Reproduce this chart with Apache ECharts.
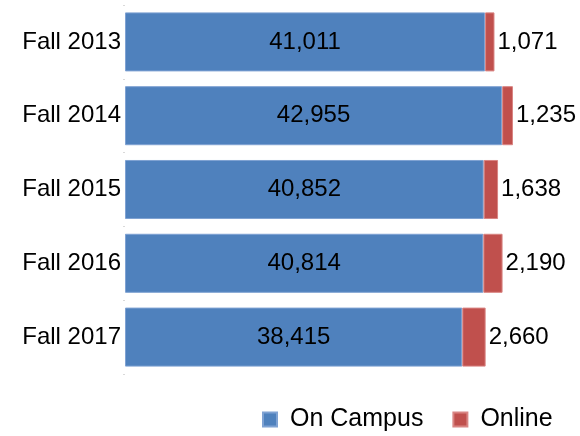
<!DOCTYPE html>
<html>
<head>
<meta charset="utf-8">
<script src="https://cdn.jsdelivr.net/npm/echarts@6/dist/echarts.min.js"></script>
<style>
  html, body { margin: 0; padding: 0; background: #fff; }
  #chart { width: 580px; height: 436px; }
</style>
</head>
<body>
<div id="chart"></div>
<script>
const terms = ['Fall 2013', 'Fall 2014', 'Fall 2015', 'Fall 2016', 'Fall 2017'];
const onCampus = [41011, 42955, 40852, 40814, 38415];
const online = [1071, 1235, 1638, 2190, 2660];

const fmt = (p) => p.value.toLocaleString('en-US');
const font = 'Liberation Sans, Arial, sans-serif';

const chart = echarts.init(document.getElementById('chart'));
chart.setOption({
  animation: false,
  textStyle: { fontFamily: font },
  grid: { left: 125, right: 16, top: 5, bottom: 62 },
  legend: {
    data: ['On Campus', 'Online'],
    left: 262,
    top: 407,
    padding: 0,
    itemWidth: 14,
    itemHeight: 14,
    itemGap: 29,
    icon: 'rect',
    textStyle: { fontSize: 25, color: '#000', fontFamily: font, padding: [4, 0, 0, 8] }
  },
  xAxis: {
    type: 'value',
    min: 0,
    max: 50000,
    show: false
  },
  yAxis: {
    type: 'category',
    data: terms,
    inverse: true,
    axisLine: { show: false },
    axisTick: { show: true, length: 2, lineStyle: { color: '#d9d9d9' } },
    axisLabel: { fontSize: 24, color: '#000', margin: 4, fontFamily: font }
  },
  series: [
    {
      name: 'On Campus',
      type: 'bar',
      stack: 'total',
      barCategoryGap: '20%',
      data: onCampus,
      itemStyle: { color: '#4F81BD', borderColor: '#7FA2D3', borderWidth: 1 },
      label: { show: true, position: 'inside', fontSize: 24, color: '#000', formatter: fmt }
    },
    {
      name: 'Online',
      type: 'bar',
      stack: 'total',
      data: online,
      itemStyle: { color: '#C0504D', borderColor: '#D98583', borderWidth: 1 },
      label: { show: true, position: 'right', distance: 3, fontSize: 24, color: '#000', formatter: fmt }
    }
  ]
});
</script>
</body>
</html>
